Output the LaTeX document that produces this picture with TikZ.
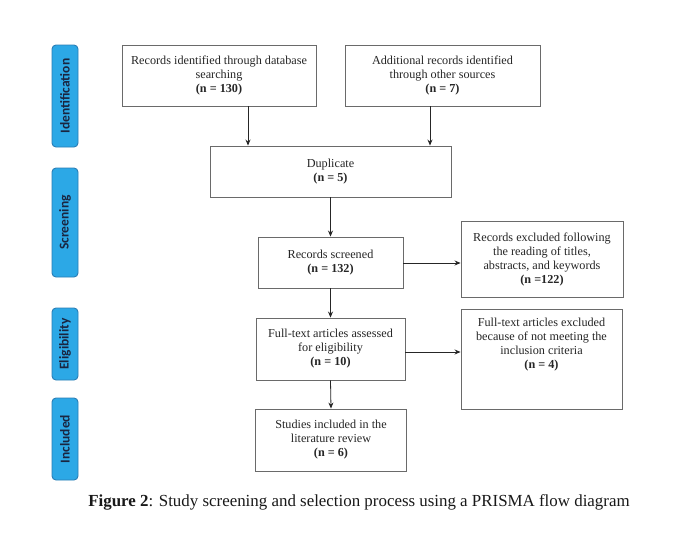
\documentclass[tikz,border=0pt]{standalone}
\usepackage{fontspec}
\setmainfont{Liberation Serif}
\newfontfamily\labelfont{Carlito}
\usetikzlibrary{arrows.meta}
\definecolor{phaseblue}{HTML}{2CA8E6}
\definecolor{phaseedge}{HTML}{2A7DB5}
\definecolor{boxedge}{HTML}{6A6A6A}
\definecolor{phaseink}{HTML}{1A2540}
\tikzset{
  phase/.style={draw=phaseedge, fill=phaseblue, rounded corners=4pt, line width=0.9pt,
    minimum width=26pt, inner sep=0pt},
  phasetext/.style={rotate=90, font=\labelfont\bfseries\fontsize{13.5}{14}\selectfont, text=phaseink},
  flowbox/.style={draw=boxedge, line width=0.9pt, inner sep=0pt, align=center,
    font=\fontsize{12.2}{14}\selectfont, text=black!85},
  flowtext/.style={align=center, font=\fontsize{12.2}{14}\selectfont, text=black!85, inner sep=0pt},
  arr/.style={-{Stealth[length=6pt,width=5pt]}, line width=0.8pt, black!85},
}
\begin{document}
\begin{tikzpicture}[x=1pt,y=-1pt]
\useasboundingbox (0,0) rectangle (685,555);
\fill[white] (0,0) rectangle (685,555);
% phase labels
\node[phase, minimum height=102pt] (pid) at (65,96) {};
\node[phasetext] (pidt) at (pid.center) {Identification};
\node[phase, minimum height=109pt] (psc) at (65,222.5) {};
\node[phasetext] (psct) at (psc.center) {Screening};
\node[phase, minimum height=72pt] (pel) at (65,344) {};
\node[phasetext] (pelt) at (pel.center) {Eligibility};
\node[phase, minimum height=82pt] (pin) at (65,439) {};
\node[phasetext] (pint) at (pin.center) {Included};
% flow boxes
\node[flowbox, minimum width=194pt, minimum height=61pt] (A) at (219,75.5)
  {Records identified through database\\searching\\\textbf{(n = 130)}};
\node[flowbox, minimum width=195pt, minimum height=61pt] (B) at (442.5,75.5)
  {Additional records identified\\through other sources\\\textbf{(n = 7)}};
\node[flowbox, minimum width=241pt, minimum height=51pt] (D) at (330.5,171.5)
  {Duplicate\\\textbf{(n = 5)}};
\node[flowbox, minimum width=145pt, minimum height=51pt] (S) at (330.5,262.5)
  {Records screened\\\textbf{(n = 132)}};
\node[flowbox, minimum width=162pt, minimum height=76pt] (E1) at (542,259)
  {Records excluded following\\the reading of titles,\\abstracts, and keywords\\\textbf{(n =122)}};
\node[flowbox, minimum width=149pt, minimum height=62pt] (F) at (330.5,349)
  {Full-text articles assessed\\for eligibility\\\textbf{(n = 10)}};
\node[flowbox, minimum width=161pt, minimum height=100pt] (E2) at (541.5,359) {};
\node[flowtext, anchor=north] (E2t) at ([yshift=-9pt]E2.north)
  {Full-text articles excluded\\because of not meeting the\\inclusion criteria\\\textbf{(n = 4)}};
\node[flowbox, minimum width=151pt, minimum height=62pt] (I) at (331,440)
  {Studies included in the\\literature review\\\textbf{(n = 6)}};
% arrows
\draw[arr] ([xshift=29pt]A.south) -- ([xshift=29pt]A.south |- D.north);
\draw[arr] ([xshift=-12.5pt]B.south) -- ([xshift=-12.5pt]B.south |- D.north);
\draw[arr] (D.south) -- (S.north);
\draw[arr] ([yshift=-0.5pt]S.east) -- ([yshift=-0.5pt]S.east -| E1.west);
\draw[arr] (S.south) -- (F.north);
\draw[arr] ([yshift=-3pt]F.east) -- ([yshift=-3pt]F.east -| E2.west);
\draw[arr] (F.south) -- (I.north);
% caption
\node[font=\fontsize{16.9}{18}\selectfont, text=black!90] (cap) at (359,502)
  {\textbf{Figure 2}: Study screening and selection process using a PRISMA flow diagram};
\end{tikzpicture}
\end{document}
